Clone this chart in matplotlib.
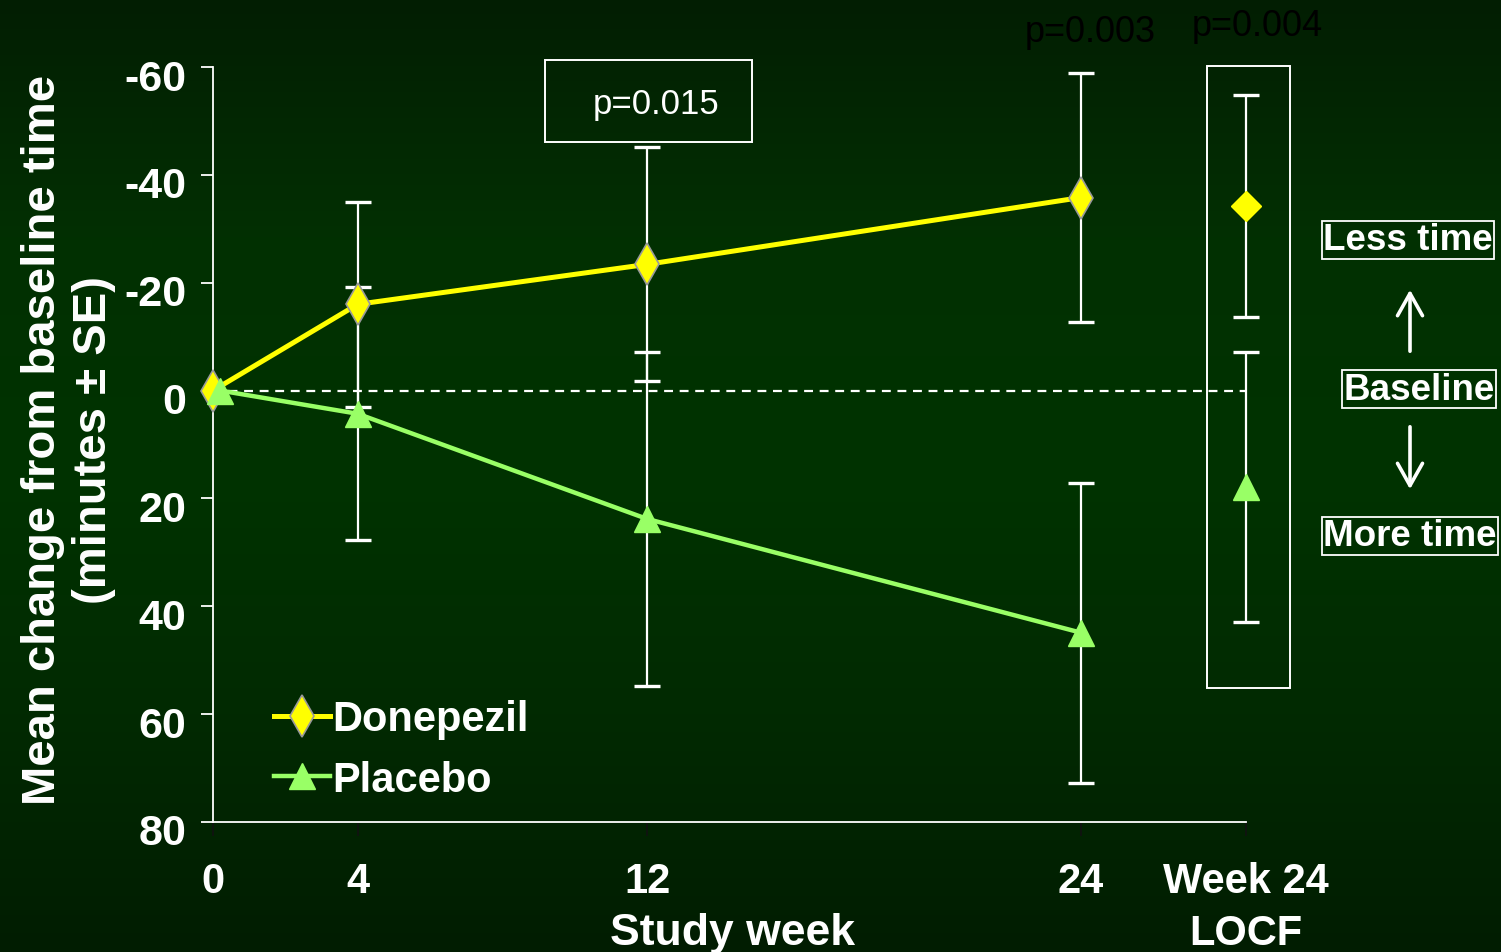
import numpy as np
import matplotlib

matplotlib.use("Agg")
import matplotlib.pyplot as plt
import matplotlib.transforms as mtransforms
from matplotlib.colors import LinearSegmentedColormap
from matplotlib.patches import FancyArrowPatch

# Study weeks and group means / SE (minutes; negative = less time)
weeks = [0, 4, 12, 24]
placebo_weeks = [0.2, 4, 12, 24]
donepezil_mean = [0, -16.0, -23.4, -35.8]
donepezil_se = [0, 19.0, 21.7, 23.1]
placebo_mean = [0, 4.3, 23.8, 44.9]
placebo_se = [0, 23.5, 30.9, 27.8]

# Week 24 LOCF analysis
LOCF_POS = 28.56
locf_donepezil = (-34.3, 20.6)
locf_placebo = (17.9, 25.1)

y_ticks = [-60, -40, -20, 0, 20, 40, 60, 80]
x_ticks = [0, 4, 12, 24, LOCF_POS]
x_tick_labels = ["0", "4", "12", "24", "Week 24"]

YELLOW = "#ffff00"
GREEN = "#99ff66"
WHITE = "white"
NARROW = ["Liberation Sans Narrow", "Liberation Sans", "DejaVu Sans"]
SANS = ["Liberation Sans", "DejaVu Sans"]

fig = plt.figure(figsize=(15.01, 9.53), dpi=100)

# background gradient
bg = fig.add_axes([0, 0, 1, 1], zorder=-10)
bg_cmap = LinearSegmentedColormap.from_list(
    "bg", ["#021e02", "#023002", "#003300", "#022a02", "#011d01"])
bg.imshow(np.linspace(0, 1, 256)[:, None], aspect="auto", cmap=bg_cmap,
          extent=[0, 1, 0, 1])
bg.axis("off")

ax = fig.add_axes([213 / 1501, 1 - 823 / 953, (1246 - 213) / 1501, (823 - 68) / 953])
ax.patch.set_alpha(0)
ax.set_xlim(0, LOCF_POS)
ax.set_ylim(80, -60)

ax.axhline(0, color=WHITE, lw=1.6, ls=(0, (4, 3)), zorder=1)

err_kw = dict(fmt="none", ecolor=WHITE, elinewidth=1.6, capsize=9.5,
              capthick=2.4, zorder=2, clip_on=False)
ax.errorbar(weeks[1:], donepezil_mean[1:], yerr=donepezil_se[1:], **err_kw)
ax.errorbar(placebo_weeks[1:], placebo_mean[1:], yerr=placebo_se[1:], **err_kw)
ax.errorbar([LOCF_POS], [locf_donepezil[0]], yerr=[locf_donepezil[1]], **err_kw)
ax.errorbar([LOCF_POS], [locf_placebo[0]], yerr=[locf_placebo[1]], **err_kw)

ax.plot(weeks, donepezil_mean, color=YELLOW, lw=3.6, marker="d", ms=21,
        mfc=YELLOW, mec="#999999", mew=1.2, zorder=4, label="Donepezil",
        clip_on=False)
ax.plot(placebo_weeks, placebo_mean, color=GREEN, lw=3.2, marker="^", ms=19,
        mfc=GREEN, mec=GREEN, zorder=5, label="Placebo", clip_on=False)
ax.plot([LOCF_POS], [locf_donepezil[0]], ls="none", marker="D", ms=15,
        color=YELLOW, zorder=4, clip_on=False)
ax.plot([LOCF_POS], [locf_placebo[0]], ls="none", marker="^", ms=19,
        color=GREEN, zorder=4, clip_on=False)

# axes styling
for side in ["top", "right"]:
    ax.spines[side].set_visible(False)
for side in ["left", "bottom"]:
    ax.spines[side].set_color(WHITE)
    ax.spines[side].set_linewidth(1.3)

ax.set_yticks(y_ticks)
ax.set_yticklabels([str(v) for v in y_ticks], family=NARROW, fontsize=31,
                   fontweight="bold", color=WHITE)
ax.tick_params(axis="y", colors=WHITE, length=9, width=1.3, pad=10)
offset = mtransforms.ScaledTranslation(0, -0.07, fig.dpi_scale_trans)
for lbl in ax.get_yticklabels():
    lbl.set_transform(lbl.get_transform() + offset)

ax.set_xticks(x_ticks)
ax.set_xticklabels(x_tick_labels, family=NARROW, fontsize=30,
                   fontweight="bold", color=WHITE)
ax.tick_params(axis="x", colors="#111111", length=10, width=1.2, pad=18,
               labelcolor=WHITE)

ax.text(LOCF_POS, -0.147, "LOCF", transform=ax.get_xaxis_transform(),
        family=NARROW, fontsize=30, fontweight="bold", color=WHITE,
        ha="center", va="center", clip_on=False)
ax.text(0.503, -0.147, "Study week", transform=ax.transAxes,
        family=NARROW, fontsize=32, fontweight="bold", color=WHITE,
        ha="center", va="center", clip_on=False)
ax.set_ylabel("Mean change from baseline time\n(minutes ± SE)", family=SANS,
              fontsize=34, fontweight="bold", color=WHITE, linespacing=1.2)
ax.yaxis.set_label_coords(-0.094, 0.507)

leg = ax.legend(loc="center left", bbox_to_anchor=(0.043, 0.096), frameon=False,
                prop={"family": SANS, "size": 30, "weight": "bold"},
                handlelength=1.35, handletextpad=0.05, labelspacing=0.5,
                borderaxespad=0.0)
for t in leg.get_texts():
    t.set_color(WHITE)

# p-value annotations
ax.text(12.25, -53.2, "p=0.015", family=NARROW, fontsize=25, color=WHITE,
        ha="center", va="center", zorder=5)
fig.patches.append(plt.Rectangle((545 / 1501, 1 - 143 / 953), 207 / 1501,
                                 82 / 953, fill=False, ec=WHITE, lw=1.4,
                                 transform=fig.transFigure))
fig.text(1090 / 1501, 1 - 32 / 953, "p=0.003", family=NARROW, fontsize=26,
         color="black", ha="center", va="center")
fig.text(1257 / 1501, 1 - 26 / 953, "p=0.004", family=NARROW, fontsize=26,
         color="black", ha="center", va="center")

# LOCF box
fig.patches.append(plt.Rectangle((1207 / 1501, 1 - 689 / 953), 83 / 1501,
                                 622 / 953, fill=False, ec=WHITE, lw=1.4,
                                 transform=fig.transFigure))

# direction labels
for label, cx, cy in [("Less time", 1408, 241), ("Baseline", 1419, 390),
                      ("More time", 1410, 537)]:
    fig.text(cx / 1501, 1 - cy / 953, label, family=SANS, fontsize=26.5,
             fontweight="bold", color=WHITE, ha="center", va="center",
             bbox=dict(boxstyle="square,pad=0.04", fc="none", ec=WHITE, lw=1.3))

for y0, y1 in [(355, 288), (425, 493)]:
    fig.patches.append(FancyArrowPatch(
        (1410 / 1501, 1 - y0 / 953), (1410 / 1501, 1 - y1 / 953),
        transform=fig.transFigure, arrowstyle="->,head_length=0.8,head_width=0.45",
        color=WHITE, lw=2.6, mutation_scale=20))

fig.savefig("out.png", dpi=100, facecolor="#012401")
